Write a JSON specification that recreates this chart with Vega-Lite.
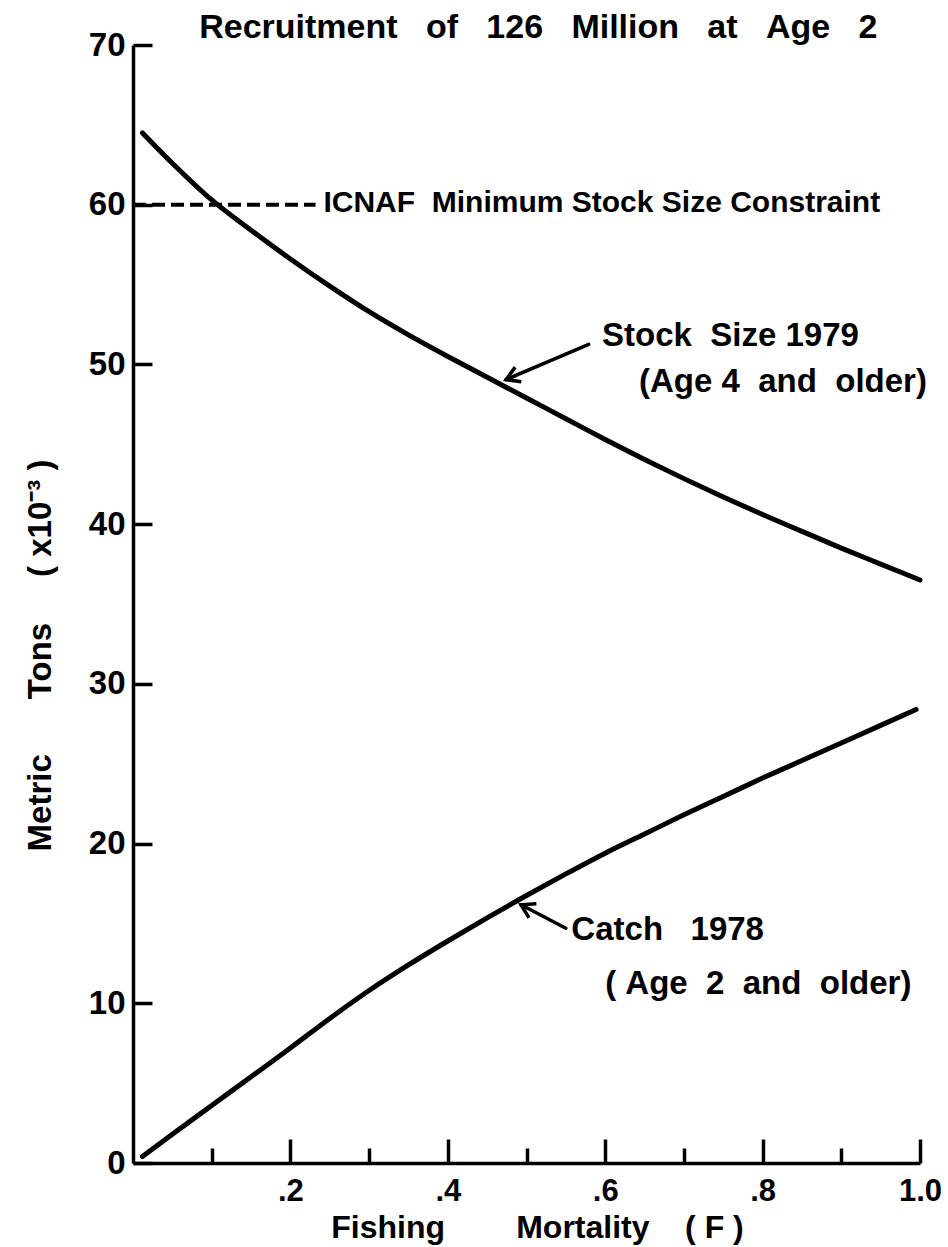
{
  "$schema": "https://vega.github.io/schema/vega-lite/v6.json",
  "width": 787,
  "height": 1118,
  "autosize": {"type": "none"},
  "padding": {"left": 133, "top": 45, "right": 28, "bottom": 84},
  "background": "white",
  "config": {
    "view": {"stroke": null},
    "axis": {"grid": false, "domainColor": "black", "tickColor": "black", "labelColor": "black", "titleColor": "black"}
  },
  "datasets": {
    "curves": [
      {"series": "Stock Size 1979", "F": 0.012, "tons": 64.5},
      {"series": "Stock Size 1979", "F": 0.05, "tons": 62.6},
      {"series": "Stock Size 1979", "F": 0.1, "tons": 60.3},
      {"series": "Stock Size 1979", "F": 0.15, "tons": 58.4},
      {"series": "Stock Size 1979", "F": 0.2, "tons": 56.6},
      {"series": "Stock Size 1979", "F": 0.25, "tons": 54.9},
      {"series": "Stock Size 1979", "F": 0.3, "tons": 53.3},
      {"series": "Stock Size 1979", "F": 0.35, "tons": 51.85},
      {"series": "Stock Size 1979", "F": 0.4, "tons": 50.5},
      {"series": "Stock Size 1979", "F": 0.45, "tons": 49.2},
      {"series": "Stock Size 1979", "F": 0.5, "tons": 47.9},
      {"series": "Stock Size 1979", "F": 0.55, "tons": 46.6},
      {"series": "Stock Size 1979", "F": 0.6, "tons": 45.3},
      {"series": "Stock Size 1979", "F": 0.65, "tons": 44.05},
      {"series": "Stock Size 1979", "F": 0.7, "tons": 42.85},
      {"series": "Stock Size 1979", "F": 0.75, "tons": 41.7},
      {"series": "Stock Size 1979", "F": 0.8, "tons": 40.6},
      {"series": "Stock Size 1979", "F": 0.85, "tons": 39.55},
      {"series": "Stock Size 1979", "F": 0.9, "tons": 38.5},
      {"series": "Stock Size 1979", "F": 0.95, "tons": 37.5},
      {"series": "Stock Size 1979", "F": 1.0, "tons": 36.5},
      {"series": "Catch 1978", "F": 0.012, "tons": 0.4},
      {"series": "Catch 1978", "F": 0.05, "tons": 1.8},
      {"series": "Catch 1978", "F": 0.1, "tons": 3.6},
      {"series": "Catch 1978", "F": 0.15, "tons": 5.4},
      {"series": "Catch 1978", "F": 0.2, "tons": 7.2},
      {"series": "Catch 1978", "F": 0.25, "tons": 9.05},
      {"series": "Catch 1978", "F": 0.3, "tons": 10.8},
      {"series": "Catch 1978", "F": 0.35, "tons": 12.4},
      {"series": "Catch 1978", "F": 0.4, "tons": 13.9},
      {"series": "Catch 1978", "F": 0.45, "tons": 15.35},
      {"series": "Catch 1978", "F": 0.5, "tons": 16.75},
      {"series": "Catch 1978", "F": 0.55, "tons": 18.1},
      {"series": "Catch 1978", "F": 0.6, "tons": 19.4},
      {"series": "Catch 1978", "F": 0.65, "tons": 20.6},
      {"series": "Catch 1978", "F": 0.7, "tons": 21.8},
      {"series": "Catch 1978", "F": 0.75, "tons": 22.95},
      {"series": "Catch 1978", "F": 0.8, "tons": 24.1},
      {"series": "Catch 1978", "F": 0.85, "tons": 25.2},
      {"series": "Catch 1978", "F": 0.9, "tons": 26.3},
      {"series": "Catch 1978", "F": 0.95, "tons": 27.4},
      {"series": "Catch 1978", "F": 0.995, "tons": 28.4}
    ],
    "constraint": [
      {"name": "ICNAF Minimum Stock Size Constraint", "F_start": 0, "F_end": 0.232, "tons": 60}
    ],
    "arrows": [
      {"name": "stock", "F": 0.579, "tons": 51.26, "F2": 0.474, "tons2": 49.05},
      {"name": "catch", "F": 0.55, "tons": 14.7, "F2": 0.493, "tons2": 16.17}
    ],
    "heading": [
      {"label": "Recruitment\u00a0\u00a0\u00a0of\u00a0\u00a0\u00a0126\u00a0\u00a0\u00a0Million\u00a0\u00a0\u00a0at\u00a0\u00a0\u00a0Age\u00a0\u00a0\u00a02", "F": 0.515, "tons": 70.44}
    ],
    "labels30": [
      {"label": "ICNAF\u00a0\u00a0Minimum Stock Size Constraint", "F": 0.242, "tons": 60.1}
    ],
    "labels33": [
      {"label": "Stock\u00a0\u00a0Size 1979", "F": 0.596, "tons": 51.8},
      {"label": "(Age\u00a04\u00a0\u00a0and\u00a0\u00a0older)", "F": 0.643, "tons": 48.9},
      {"label": "Catch\u00a0\u00a0\u00a01978", "F": 0.557, "tons": 14.6},
      {"label": "(\u00a0Age\u00a0\u00a02\u00a0\u00a0and\u00a0\u00a0older)", "F": 0.6, "tons": 11.2}
    ]
  },
  "layer": [
    {
      "data": {"name": "curves"},
      "mark": {"type": "line", "color": "black", "strokeWidth": 5, "strokeCap": "round", "strokeJoin": "round", "interpolate": "monotone"},
      "encoding": {
        "x": {
          "field": "F", "type": "quantitative",
          "scale": {"domain": [0, 1], "nice": false, "zero": false},
          "axis": {
            "orient": "bottom",
            "values": [0.2, 0.4, 0.6, 0.8, 1.0],
            "labelExpr": "datum.value == 1 ? '1.0' : replace(format(datum.value, '.1f'), '0.', '.')",
            "tickSize": -24, "tickWidth": 3.5, "domainWidth": 3.5,
            "labelPadding": 37, "labelFlush": false, "labelOverlap": false,
            "labelFont": "'Liberation Sans', sans-serif", "labelFontWeight": "bold", "labelFontSize": 31,
            "title": "Fishing\u00a0\u00a0\u00a0\u00a0\u00a0\u00a0\u00a0\u00a0Mortality\u00a0\u00a0\u00a0\u00a0(\u00a0F\u00a0)",
            "titleFont": "'Liberation Sans', sans-serif",
            "titleFontSize": 32, "titleFontWeight": "bold",
            "titleX": 404, "titleY": 74, "titleBaseline": "alphabetic", "titleAlign": "center", "titleAngle": 0
          }
        },
        "y": {
          "field": "tons", "type": "quantitative",
          "scale": {"domain": [0, 70], "nice": false},
          "axis": {
            "values": [0, 10, 20, 30, 40, 50, 60, 70],
            "tickSize": -19, "tickWidth": 3.5, "domainWidth": 3.5,
            "labelPadding": 27, "labelFlush": false, "labelOverlap": false,
            "labelFont": "'Liberation Sans', sans-serif", "labelFontWeight": "bold", "labelFontSize": 33,
            "title": "Metric\u00a0\u00a0\u00a0\u00a0\u00a0\u00a0Tons\u00a0\u00a0\u00a0\u00a0\u00a0(\u00a0x10\u207b\u00b3\u00a0)",
            "titleFont": "'Liberation Sans', sans-serif",
            "titleFontSize": 33, "titleFontWeight": "bold",
            "titleX": -83, "titleY": 610, "titleBaseline": "alphabetic", "titleAlign": "center", "titleAngle": -90
          }
        },
        "detail": {"field": "series"}
      }
    },
    {
      "data": {"name": "constraint"},
      "mark": {"type": "rule", "color": "black", "strokeWidth": 4, "strokeDash": [13, 6]},
      "encoding": {
        "x": {
          "field": "F_start", "type": "quantitative",
          "axis": {
            "orient": "bottom",
            "values": [0.1, 0.3, 0.5, 0.7, 0.9],
            "tickSize": -15, "tickWidth": 3.5,
            "labels": false, "domain": false, "title": null
          }
        },
        "x2": {"field": "F_end"},
        "y": {"field": "tons", "type": "quantitative", "axis": null}
      }
    },
    {
      "data": {"name": "arrows"},
      "mark": {"type": "rule", "color": "black", "strokeWidth": 3.5, "strokeCap": "round"},
      "encoding": {
        "x": {"field": "F", "type": "quantitative", "axis": null},
        "x2": {"field": "F2"},
        "y": {"field": "tons", "type": "quantitative", "axis": null},
        "y2": {"field": "tons2"}
      }
    },
    {
      "data": {"name": "arrows"},
      "transform": [{"filter": "datum.name == 'stock'"}],
      "mark": {"type": "point", "shape": "M -1 -0.6 L 0 0 L -1 0.6", "filled": false, "stroke": "black", "strokeWidth": 3.5, "size": 700, "angle": 157, "opacity": 1},
      "encoding": {
        "x": {"field": "F2", "type": "quantitative", "axis": null},
        "y": {"field": "tons2", "type": "quantitative", "axis": null}
      }
    },
    {
      "data": {"name": "arrows"},
      "transform": [{"filter": "datum.name == 'catch'"}],
      "mark": {"type": "point", "shape": "M -1 -0.6 L 0 0 L -1 0.6", "filled": false, "stroke": "black", "strokeWidth": 3.5, "size": 700, "angle": 207.6, "opacity": 1},
      "encoding": {
        "x": {"field": "F2", "type": "quantitative", "axis": null},
        "y": {"field": "tons2", "type": "quantitative", "axis": null}
      }
    },
    {
      "data": {"name": "heading"},
      "mark": {"type": "text", "align": "center", "baseline": "alphabetic", "font": "'Liberation Sans', sans-serif", "fontSize": 34, "fontWeight": "bold", "color": "black"},
      "encoding": {
        "x": {"field": "F", "type": "quantitative", "axis": null},
        "y": {"field": "tons", "type": "quantitative", "axis": null},
        "text": {"field": "label"}
      }
    },
    {
      "data": {"name": "labels30"},
      "mark": {"type": "text", "align": "left", "baseline": "middle", "font": "'Liberation Sans', sans-serif", "fontSize": 30, "fontWeight": "bold", "color": "black"},
      "encoding": {
        "x": {"field": "F", "type": "quantitative", "axis": null},
        "y": {"field": "tons", "type": "quantitative", "axis": null},
        "text": {"field": "label"}
      }
    },
    {
      "data": {"name": "labels33"},
      "mark": {"type": "text", "align": "left", "baseline": "middle", "font": "'Liberation Sans', sans-serif", "fontSize": 33, "fontWeight": "bold", "color": "black"},
      "encoding": {
        "x": {"field": "F", "type": "quantitative", "axis": null},
        "y": {"field": "tons", "type": "quantitative", "axis": null},
        "text": {"field": "label"}
      }
    }
  ],
  "resolve": {"axis": {"x": "independent", "y": "independent"}}
}
